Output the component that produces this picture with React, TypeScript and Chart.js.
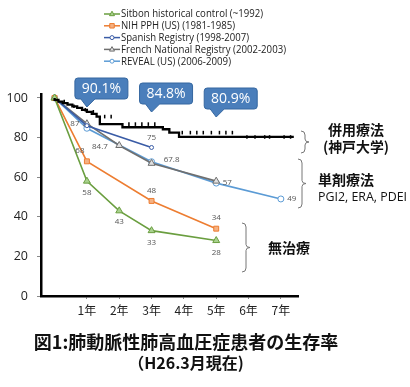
import React, { useEffect, useRef } from 'react';
import { Chart, registerables } from 'chart.js';

Chart.register(...registerables);

// ---- data ----
const yearTicks = [1, 2, 3, 4, 5, 6, 7];
const yearLabels = ['1年', '2年', '3年', '4年', '5年', '6年', '7年'];
const yTicks = [0, 20, 40, 60, 80, 100];

const sitbonX = [0, 1, 2, 3, 5];
const sitbonY = [100, 58, 43, 33, 28];
const nihX = [0, 1, 3, 5];
const nihY = [100, 68, 48, 34];
const spanishX = [0, 1, 3];
const spanishY = [100, 86, 75];
const frenchX = [0, 1, 2, 3, 5];
const frenchY = [100, 87, 76, 67, 58];
const revealX = [0, 1, 3, 5, 7];
const revealY = [100, 84.7, 67.8, 57, 49];

// Kaplan-Meier curve (Kobe Univ. combination therapy)
const kmX = [0, 0.12, 0.25, 0.4, 0.55, 0.7, 0.85, 1.0, 1.15, 1.3, 1.4, 2.1, 3.35, 3.55, 3.85, 5.72, 7.4];
const kmY = [100, 99, 98.2, 97.4, 96.6, 95.8, 95, 94, 93, 92, 90.6, 86.8, 85.2, 84.2, 82.5, 80.3, 80.3];
const censorX = [0.3, 0.6, 0.95, 1.2, 1.55, 1.75, 2.3, 2.5, 2.7, 2.9, 3.1, 3.95, 4.2, 4.4, 4.6, 4.85, 5.1, 5.3, 5.5, 5.95, 6.2, 6.5, 6.65, 7.1, 7.3];
const censorY = [98.2, 95.8, 94, 93, 90.6, 90.6, 86.8, 86.8, 86.8, 86.8, 86.8, 82.5, 82.5, 82.5, 82.5, 82.5, 82.5, 82.5, 82.5, 80.3, 80.3, 80.3, 80.3, 80.3, 80.3];

const seriesNames = [
  'Sitbon historical control (~1992)',
  'NIH PPH (US) (1981-1985)',
  'Spanish Registry (1998-2007)',
  'French National Registry (2002-2003)',
  'REVEAL (US) (2006-2009)',
];

const calloutYears = [1, 3, 5];
const calloutTexts = ['90.1%', '84.8%', '80.9%'];

// ---- styles ----
const FONT = "'Open Sans', 'Noto Sans CJK JP', sans-serif";
const CJK = "'Noto Sans CJK JP', 'Open Sans', sans-serif";

const seriesStyles = [
  { color: '#6A9E3F', fill: '#A9D18E', style: 'triangle', radius: 4 },
  { color: '#ED7D31', fill: '#F4B183', style: 'rect', radius: 3.5 },
  { color: '#3A5CA6', fill: '#FFFFFF', style: 'circle', radius: 2 },
  { color: '#6F6F6F', fill: '#E0E0E0', style: 'triangle', radius: 4 },
  { color: '#5B9BD5', fill: '#FFFFFF', style: 'circle', radius: 3 },
];

// label placements: [seriesIndex, pointIndex, dx, dy]
const labelPlacements: [number, number, number, number][] = [
  [3, 1, -12, 0],
  [4, 1, 13, 18],
  [2, 2, 0, -10],
  [4, 2, 20, -2],
  [4, 3, 11, 0],
  [4, 4, 11, 0],
  [1, 1, -7, -11],
  [0, 1, 0, 12],
  [0, 2, 0, 11],
  [0, 3, 0, 12],
  [1, 2, 0, -10],
  [1, 3, 0, -11],
  [0, 4, 0, 12],
];
const legendMaxWidths = [142, 114, 128, 165, 110];
const calloutTipY = [107, 112, 117];

const pts = (xs: number[], ys: number[]) => xs.map((x, i) => ({ x, y: ys[i] }));

function drawMarker(ctx: CanvasRenderingContext2D, style: string, x: number, y: number, r: number, color: string, fill: string) {
  ctx.save();
  ctx.fillStyle = fill;
  ctx.strokeStyle = color;
  ctx.lineWidth = 1;
  ctx.beginPath();
  if (style === 'triangle') {
    ctx.moveTo(x, y - r);
    ctx.lineTo(x + r * 0.9, y + r * 0.6);
    ctx.lineTo(x - r * 0.9, y + r * 0.6);
    ctx.closePath();
  } else if (style === 'rect') {
    ctx.rect(x - r * 0.8, y - r * 0.8, r * 1.6, r * 1.6);
  } else {
    ctx.arc(x, y, r, 0, Math.PI * 2);
  }
  ctx.fill();
  ctx.stroke();
  ctx.restore();
}

function brace(ctx: CanvasRenderingContext2D, x: number, y1: number, y2: number) {
  const ym = (y1 + y2) / 2;
  ctx.save();
  ctx.strokeStyle = '#777';
  ctx.lineWidth = 1;
  ctx.beginPath();
  ctx.moveTo(x - 4, y1);
  ctx.quadraticCurveTo(x, y1, x, y1 + 4);
  ctx.lineTo(x, ym - 3);
  ctx.quadraticCurveTo(x, ym, x + 4, ym);
  ctx.quadraticCurveTo(x, ym, x, ym + 3);
  ctx.lineTo(x, y2 - 4);
  ctx.quadraticCurveTo(x, y2, x - 4, y2);
  ctx.stroke();
  ctx.restore();
}

function callout(ctx: CanvasRenderingContext2D, tipX: number, tipY: number, text: string) {
  const left = tipX - 12;
  const w = 53;
  const h = 21;
  const bottom = tipY - 8;
  const top = bottom - h;
  const right = left + w;
  const r = 3;
  const b1 = left + 6;
  const b2 = left + 20;
  ctx.save();
  ctx.beginPath();
  ctx.moveTo(left + r, top);
  ctx.lineTo(right - r, top);
  ctx.arcTo(right, top, right, top + r, r);
  ctx.lineTo(right, bottom - r);
  ctx.arcTo(right, bottom, right - r, bottom, r);
  ctx.lineTo(b2, bottom);
  ctx.lineTo(tipX, tipY);
  ctx.lineTo(b1, bottom);
  ctx.lineTo(left + r, bottom);
  ctx.arcTo(left, bottom, left, bottom - r, r);
  ctx.lineTo(left, top + r);
  ctx.arcTo(left, top, left + r, top, r);
  ctx.closePath();
  ctx.fillStyle = '#4A7EBB';
  ctx.fill();
  ctx.strokeStyle = '#3567A0';
  ctx.lineWidth = 1;
  ctx.stroke();
  ctx.fillStyle = '#FFFFFF';
  ctx.font = `14px ${FONT}`;
  ctx.textAlign = 'center';
  ctx.textBaseline = 'middle';
  ctx.fillText(text, left + w / 2, top + h / 2 + 0.5);
  ctx.restore();
}

const annotationPlugin = {
  id: 'annotations',
  afterDraw(chart: any) {
    const ctx: CanvasRenderingContext2D = chart.ctx;
    const xs = chart.scales.x;

    // data labels
    ctx.save();
    ctx.font = `8px ${FONT}`;
    ctx.fillStyle = '#555';
    ctx.textAlign = 'center';
    ctx.textBaseline = 'middle';
    labelPlacements.forEach(([s, i, dx, dy]) => {
      const meta = chart.getDatasetMeta(s + 2);
      const el = meta.data[i];
      const v = chart.data.datasets[s + 2].data[i].y;
      ctx.fillText(String(v), el.x + dx, el.y + dy);
    });
    ctx.restore();

    // legend
    ctx.save();
    seriesNames.forEach((name, i) => {
      const y = 14 + i * 11.8;
      const st = seriesStyles[i];
      ctx.strokeStyle = st.color;
      ctx.lineWidth = 1.5;
      ctx.beginPath();
      ctx.moveTo(104, y);
      ctx.lineTo(120, y);
      ctx.stroke();
      drawMarker(ctx, st.style, 112, y, st.style === 'circle' ? 2 : 2.8, st.color, st.fill);
      ctx.fillStyle = '#222';
      ctx.font = `10.5px ${FONT}`;
      ctx.textAlign = 'left';
      ctx.textBaseline = 'middle';
      ctx.fillText(name, 121, y + 0.5, legendMaxWidths[i]);
    });
    ctx.restore();

    // callouts
    calloutYears.forEach((yr, i) => {
      callout(ctx, xs.getPixelForValue(yr), calloutTipY[i], calloutTexts[i]);
    });

    // braces and side texts
    brace(ctx, 305, 131, 153);
    brace(ctx, 302, 159, 208);
    brace(ctx, 246, 223, 272);

    ctx.save();
    ctx.fillStyle = '#111';
    ctx.textBaseline = 'middle';
    ctx.font = `bold 14px ${CJK}`;
    ctx.textAlign = 'center';
    ctx.fillText('併用療法', 356, 130, 57);
    ctx.fillText('(神戸大学)', 356, 147, 66);
    ctx.textAlign = 'left';
    ctx.fillText('単剤療法', 318, 180, 57);
    ctx.fillText('無治療', 268, 248, 43);
    ctx.font = `12.5px ${FONT}`;
    ctx.fillText('PGI2, ERA, PDEI', 318, 197, 89);

    ctx.textAlign = 'center';
    ctx.font = `bold 18px ${CJK}`;
    ctx.fillText('図1:肺動脈性肺高血圧症患者の生存率', 186, 342, 318);
    ctx.font = `bold 16px ${CJK}`;
    ctx.fillText('（H26.3月現在)', 186, 363, 116);
    ctx.restore();
  },
};

export default function App() {
  const ref = useRef<HTMLCanvasElement | null>(null);

  useEffect(() => {
    if (!ref.current) return;
    const seriesX = [sitbonX, nihX, spanishX, frenchX, revealX];
    const seriesY = [sitbonY, nihY, spanishY, frenchY, revealY];
    const seriesSets = seriesNames.map((name, i) => ({
      label: name,
      data: pts(seriesX[i], seriesY[i]),
      borderColor: seriesStyles[i].color,
      backgroundColor: seriesStyles[i].fill,
      borderWidth: 1.6,
      pointStyle: seriesStyles[i].style,
      pointRadius: seriesStyles[i].radius,
      pointBorderWidth: 1,
      pointBorderColor: seriesStyles[i].color,
      pointBackgroundColor: seriesStyles[i].fill,
      tension: 0,
    }));
    const chart = new Chart(ref.current, {
      type: 'line',
      data: {
        datasets: [
          {
            label: 'Kobe',
            data: pts(kmX, kmY),
            borderColor: '#000',
            borderWidth: 2.3,
            stepped: 'after',
            pointRadius: 0,
          },
          {
            label: 'censor',
            data: pts(censorX, censorY),
            showLine: false,
            pointStyle: 'line',
            rotation: 90,
            pointRadius: 1.8,
            pointBorderWidth: 1.5,
            pointBorderColor: '#000',
            borderColor: '#000',
          },
          ...seriesSets,
        ] as any,
      },
      options: {
        responsive: false,
        animation: false,
        devicePixelRatio: 1,
        layout: { padding: { top: 94, right: 112, bottom: 61, left: 0 } },
        plugins: { legend: { display: false }, tooltip: { enabled: false } },
        scales: {
          x: {
            type: 'linear',
            min: -0.42,
            max: 7.53,
            afterBuildTicks: (s: any) => {
              s.ticks = yearTicks.map((v) => ({ value: v }));
            },
            afterFit: (s: any) => {
              s.height = 30;
            },
            ticks: {
              callback: (v: any) => yearLabels[yearTicks.indexOf(Number(v))],
              font: { size: 12, family: CJK },
              color: '#222',
              padding: 4,
              maxRotation: 0,
            },
            grid: { drawOnChartArea: false, drawTicks: true, tickLength: 3, color: '#888' },
            border: { color: '#000', width: 2.5 },
          },
          y: {
            type: 'linear',
            min: 0,
            max: 102,
            afterBuildTicks: (s: any) => {
              s.ticks = yTicks.map((v) => ({ value: v }));
            },
            afterFit: (s: any) => {
              s.width = 41;
            },
            ticks: {
              font: { size: 12.5, family: FONT },
              color: '#222',
              padding: 9,
            },
            grid: { drawOnChartArea: false, drawTicks: true, tickLength: 4, color: '#888' },
            border: { color: '#000', width: 2.5 },
          },
        },
      } as any,
      plugins: [annotationPlugin],
    });
    return () => chart.destroy();
  }, []);

  return (
    <div style={{ position: 'fixed', left: 0, top: 0, width: 410, height: 387, background: '#fff' }}>
      <canvas ref={ref} width={410} height={387} />
    </div>
  );
}
